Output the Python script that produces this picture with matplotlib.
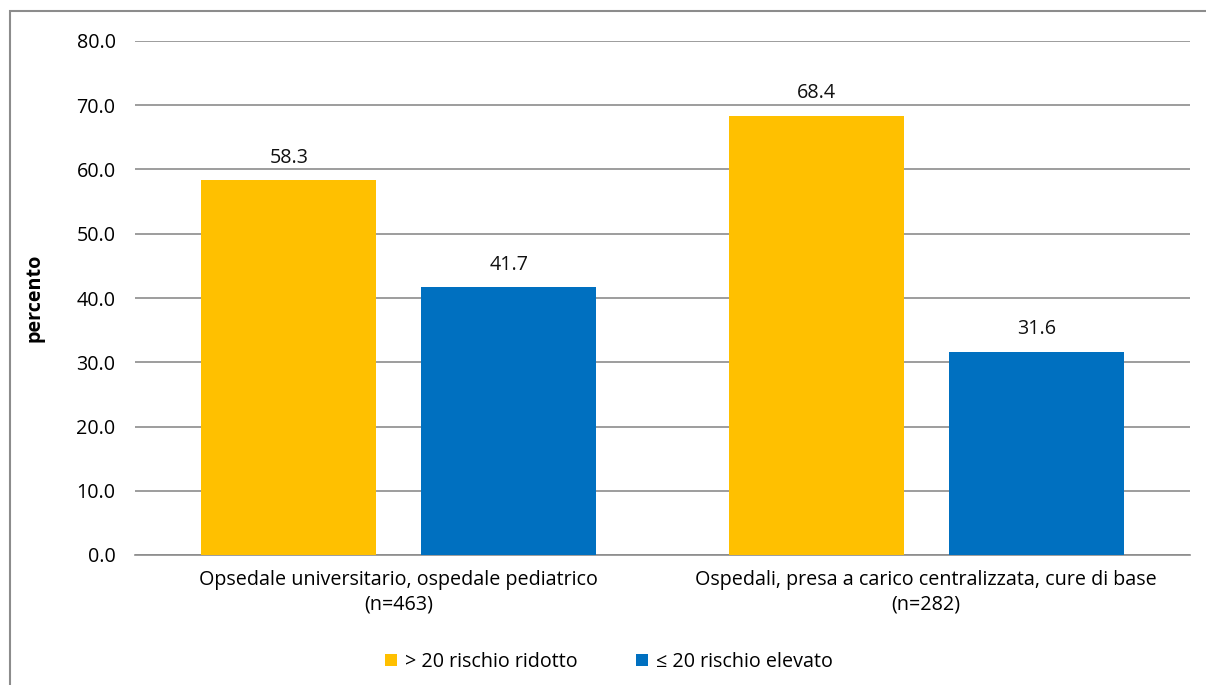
import matplotlib
matplotlib.use("Agg")
import matplotlib.pyplot as plt
from matplotlib.patches import Rectangle
import numpy as np

categories = [
    "Opsedale universitario, ospedale pediatrico\n(n=463)",
    "Ospedali, presa a carico centralizzata, cure di base\n(n=282)",
]
series_names = ["> 20 rischio ridotto", "\u2264 20 rischio elevato"]
high_values = [58.3, 68.4]
low_values = [41.7, 31.6]
y_ticks = [0, 10, 20, 30, 40, 50, 60, 70, 80]

colors = ["#FFC000", "#0070C0"]
plt.rcParams["font.family"] = ["Open Sans", "DejaVu Sans"]
FS = 14.2

W, H = 1206, 685
fig = plt.figure(figsize=(W / 100, H / 100), dpi=100)
ax = fig.add_axes([135 / W, 1 - 555 / H, (1190 - 135) / W, (555 - 41) / H])

x = np.arange(len(categories))
bw = 0.332
off = 0.2085
for vals, dx, col, name in zip([high_values, low_values], [-off, off], colors, series_names):
    bars = ax.bar(x + dx, vals, width=bw, color=col, label=name, zorder=3)
    for b, v in zip(bars, vals):
        ax.annotate(f"{v:.1f}", (b.get_x() + b.get_width() / 2, v),
                    xytext=(0, 9), textcoords="offset points",
                    ha="center", va="bottom", fontsize=FS, color="#111111")

ax.set_xlim(-0.5, 1.5)
ax.set_ylim(0, 80)
ax.set_yticks(y_ticks)
ax.set_yticklabels([f"{t:.1f}" for t in y_ticks], fontsize=FS)
ax.yaxis.grid(True, color="#8c8c8c", linewidth=1.2, zorder=0)
ax.tick_params(axis="y", length=0, pad=14)
ax.set_xticks(x)
ax.set_xticklabels(categories, fontsize=FS, linespacing=1.3)
ax.tick_params(axis="x", length=0, pad=11)
for s in ["top", "right", "left"]:
    ax.spines[s].set_visible(False)
ax.spines["bottom"].set_color("#8c8c8c")
ax.spines["bottom"].set_linewidth(1.2)
ax.set_ylabel("percento", fontsize=FS, fontweight="bold")
ax.yaxis.set_label_coords(-90 / (1190 - 135), 0.5)

leg = fig.legend(loc="center", bbox_to_anchor=(609 / W, 1 - 662 / H), ncol=2,
                 frameon=False, fontsize=FS, handlelength=0.6, handleheight=0.6,
                 handletextpad=0.4, columnspacing=3.0)

# outer frame
fig.patches.append(Rectangle((10 / W, -0.1), 1.2, 1 - 11 / H + 0.1,
                             transform=fig.transFigure, fill=False,
                             edgecolor="#8c8c8c", linewidth=1.5))

fig.savefig("out.png", dpi=100)
